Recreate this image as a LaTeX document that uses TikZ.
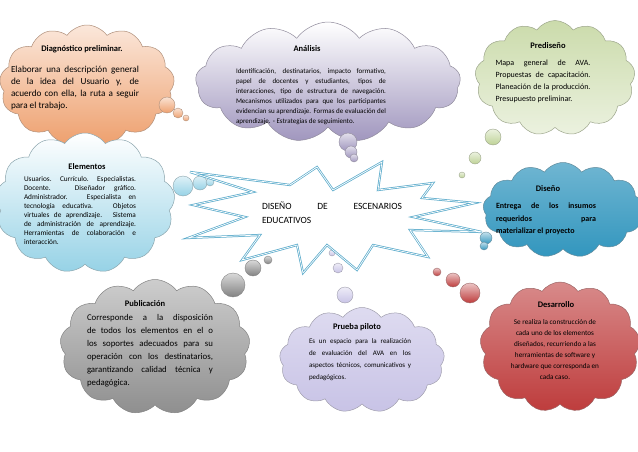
\documentclass[tikz,border=0pt]{standalone}
\usepackage{fontspec}
\setmainfont{Carlito}
\usetikzlibrary{shapes.symbols}
\tikzset{
 cl/.style={cloud, cloud puffs=13, cloud puff arc=110, aspect=1.5, inner sep=0pt, draw=#1!60!black!70, line width=0.5pt},
 bub/.style={circle, inner sep=0pt, draw=#1!60!black!70, line width=0.4pt},
 txt/.style={align=justify, inner sep=0pt, execute at begin node={\hyphenpenalty=10000\exhyphenpenalty=10000}},
 ttl/.style={font=\fontsize{8.5}{10}\selectfont\bfseries, inner sep=0pt}
}
\begin{document}
\begin{tikzpicture}[x=1pt,y=-1pt]
\useasboundingbox (0,0) rectangle (638,452);
\definecolor{or}{RGB}{238,160,110}
\definecolor{pu}{RGB}{160,150,190}
\definecolor{gr}{RGB}{190,210,150}
\definecolor{lb}{RGB}{150,210,230}
\definecolor{tb}{RGB}{50,150,190}
\definecolor{gy}{RGB}{130,130,130}
\definecolor{lv}{RGB}{200,195,230}
\definecolor{rd}{RGB}{190,60,60}
% clouds
\node[cl=or, top color=or!25, bottom color=or, minimum width=175, minimum height=120] (c1) at (87,85) {};
\node[cl=pu, top color=white, bottom color=pu, minimum width=265, minimum height=120] (c2) at (328,82) {};
\node[cl=gr, top color=gr!80, bottom color=gr!30, minimum width=160, minimum height=115] (c3) at (555,78) {};
\node[cl=lb, top color=white, bottom color=lb, minimum width=180, minimum height=140] (c4) at (85,203) {};
\node[cl=tb, top color=tb!70, bottom color=tb, minimum width=160, minimum height=95] (c5) at (563,210) {};
\node[cl=gy, top color=gy!40, bottom color=gy!90, minimum width=190, minimum height=135] (c6) at (155,347) {};
\node[cl=lv, top color=lv!60, bottom color=lv, minimum width=165, minimum height=105] (c7) at (362,360) {};
\node[cl=rd, top color=rd!60, bottom color=rd, minimum width=160, minimum height=130] (c8) at (560,347) {};
% bubbles
\foreach \n/\x/\y/\r/\c in {b1/167/105/8/or,b2/178/113/5/or,b3/186/118/3/or,
 b4/348/142/9/pu,b5/351/152/6/pu,b6/354/158/4/pu,
 b7/493/137/8/gr,b8/475/158/6/gr,b9/462/175/3/gr,
 b10/183/186/10/lb,b11/200/183/7/lb,b12/210/182/4/lb,
 b13/486/238/6/tb,b14/484/246/4/tb,
 b15/233/285/12/gy,b16/253/268/8/gy,b17/268/260/4/gy,
 b18/345/295/8/lv,b19/338/268/5/lv,b20/332/253/3/lv,
 b21/470/293/10/rd,b22/453/280/7/rd,b23/437/272/4/rd}
 \node[bub=\c, top color=\c!30, bottom color=\c, minimum size=2*\r] (\n) at (\x,\y) {};
% star
\path[draw=tb!80, line width=2.2pt, line join=miter, fill=white]
 (190,172)--(253,192)--(193,205)--(245,217)--(188,238)--(260,235)--(242,260)--(297,245)--(303,273)--(327,245)--(357,270)--(373,245)--(428,257)--(410,230)--(482,232)--(413,217)--(475,203)--(422,198)--(433,183)--(378,190)--(382,162)--(333,190)--(317,167)--(290,185)--cycle;
\path[draw=white, line width=0.7pt, line join=miter]
 (190,172)--(253,192)--(193,205)--(245,217)--(188,238)--(260,235)--(242,260)--(297,245)--(303,273)--(327,245)--(357,270)--(373,245)--(428,257)--(410,230)--(482,232)--(413,217)--(475,203)--(422,198)--(433,183)--(378,190)--(382,162)--(333,190)--(317,167)--(290,185)--cycle;
\node[align=justify, text width=140, font=\fontsize{9.5}{14}\selectfont, inner sep=0pt] (ctr) at (332,213) {DISEÑO\hfill DE\hfill ESCENARIOS\\ EDUCATIVOS};
% texts
\node[ttl] (t1) at (82,49) {Diagnóstico preliminar.};
\node[txt, text width=128, font=\fontsize{9.2}{12}\selectfont] (x1) at (75,88) {Elaborar una descripción general de la idea del Usuario y, de acuerdo con ella, la ruta a seguir para el trabajo.};
\node[ttl] (t2) at (307,49) {Análisis};
\node[txt, text width=150, font=\fontsize{7}{10}\selectfont] (x2) at (311,97) {Identificación, destinatarios, impacto formativo, papel de docentes y estudiantes, tipos de interacciones, tipo de estructura de navegación. Mecanismos utilizados para que los participantes evidencian su aprendizaje. Formas de evaluación del aprendizaje. - Estrategias de seguimiento.};
\node[ttl] (t3) at (548,46) {Prediseño};
\node[txt, text width=95, font=\fontsize{8}{12}\selectfont] (x3) at (543,81) {Mapa general de AVA. Propuestas de capacitación. Planeación de la producción. Presupuesto preliminar.};
\node[ttl] (t4) at (87,167) {Elementos};
\node[txt, text width=112, font=\fontsize{7.3}{9}\selectfont] (x4) at (80,210) {Usuarios. Currículo. Especialistas. Docente. Diseñador gráfico. Administrador. Especialista en tecnología educativa. Objetos virtuales de aprendizaje. Sistema de administración de aprendizaje. Herramientas de colaboración e interacción.};
\node[ttl] (t5) at (548,189) {Diseño};
\node[txt, text width=100, font=\fontsize{8}{12.5}\selectfont\bfseries] (x5) at (546,219) {Entrega de los insumos\linebreak requeridos para\linebreak materializar el proyecto};
\node[ttl] (t6) at (145,304) {Publicación};
\node[txt, text width=126, font=\fontsize{8.8}{13}\selectfont] (x6) at (150,351) {Corresponde a la disposición de todos los elementos en el o los soportes adecuados para su operación con los destinatarios, garantizando calidad técnica y pedagógica.};
\node[ttl] (t7) at (357,327) {Prueba piloto};
\node[txt, text width=102, font=\fontsize{7}{12}\selectfont] (x7) at (360,360) {Es un espacio para la realización de evaluación del AVA en los aspectos técnicos, comunicativos y pedagógicos.};
\node[ttl] (t8) at (556,305) {Desarrollo};
\node[align=center, inner sep=0pt, font=\fontsize{7.2}{11}\selectfont] (x8) at (555,350) {Se realiza la construcción de\\ cada uno de los elementos\\ diseñados, recurriendo a las\\ herramientas de software y\\ hardware que corresponda en\\ cada caso.};
\end{tikzpicture}
\end{document}
